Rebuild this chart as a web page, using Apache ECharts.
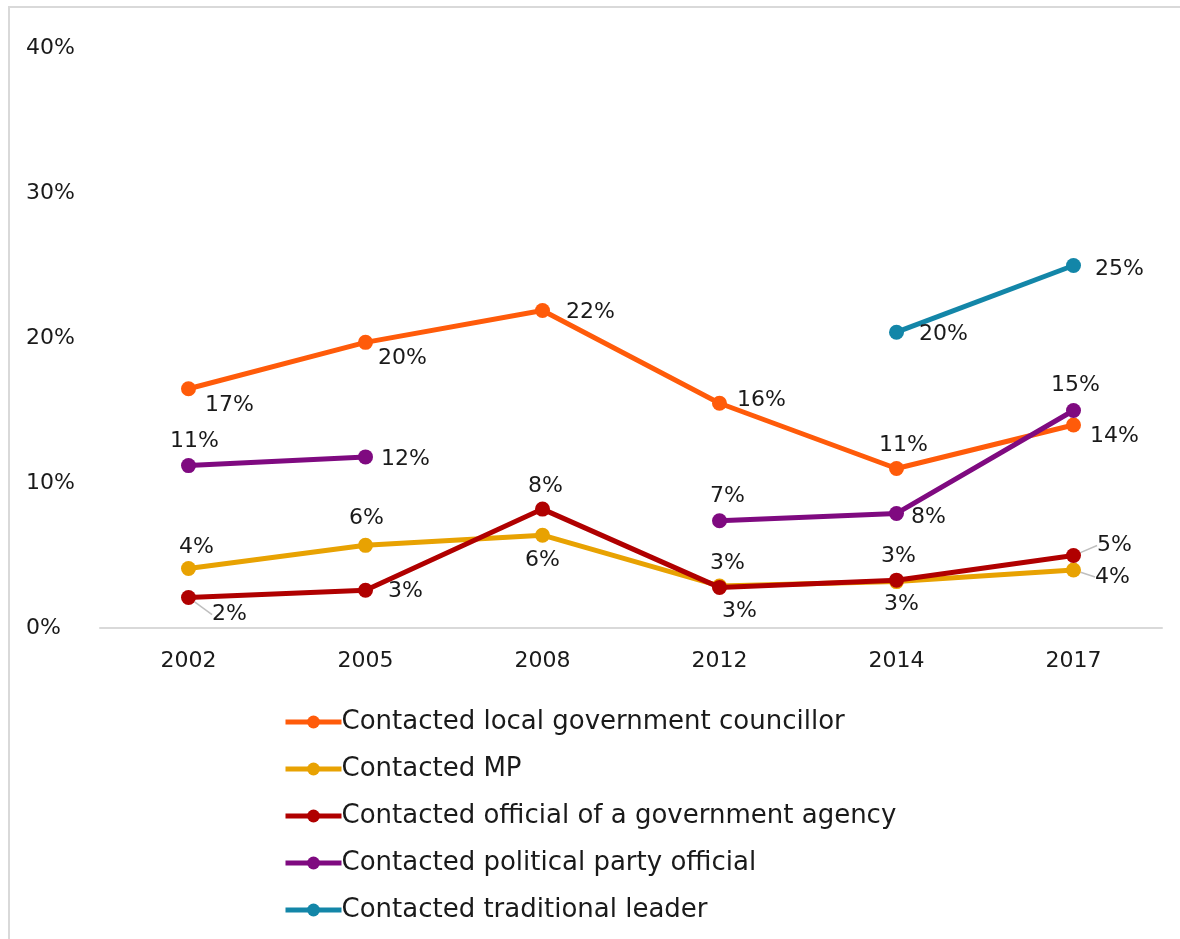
<!DOCTYPE html>
<html><head><meta charset="utf-8">
<script src="https://cdn.jsdelivr.net/npm/echarts@6/dist/echarts.min.js"></script>
<style>
html,body{margin:0;padding:0;background:#fff;}
#frame{position:absolute;left:8px;top:6px;width:1190px;height:950px;border:2px solid #d9d9d9;box-sizing:border-box;}
#c{position:absolute;left:0;top:0;width:1180px;height:939px;}
</style></head>
<body>
<div id="frame"></div>
<div id="c"></div>
<script>
const years = ['2002','2005','2008','2012','2014','2017'];
const seriesNames = ['Contacted local government councillor','Contacted MP','Contacted official of a government agency','Contacted political party official','Contacted traditional leader'];
const localCouncillor = [16.5, 19.7, 21.9, 15.5, 11.0, 14.0];
const mp = [4.1, 5.7, 6.4, 2.9, 3.2, 4.0];
const govAgency = [2.1, 2.6, 8.2, 2.8, 3.3, 5.0];
const partyOfficial = [11.2, 11.8, null, 7.4, 7.9, 15.0];
const traditionalLeader = [null, null, null, null, 20.4, 25.0];
const yTicks = [0, 10, 20, 30, 40];

// label layout (offsets in px from the point), kept apart from the data
const labelOffsets = [
  [[41,17],[37,16],[48,2],[42,-3],[7,-23],[41,11]],
  [[8,-21],[1,-27],[0,25],[8,-23],[5,23],[39,7]],
  [[41,17],[40,1],[3,-23],[20,24],[2,-24],[41,-10]],
  [[6,-24],[40,2],null,[8,-24],[32,4],[2,-25]],
  [null,null,null,null,[47,2],[46,4]]
];
const leaderPoints = [[],[5],[0,5],[],[]];
const colors = ['#FF5B0A','#E8A202','#B00000','#7F0A80','#1386A8'];
const allData = [localCouncillor, mp, govAgency, partyOfficial, traditionalLeader];

const FONT = '"DejaVu Sans", sans-serif';
const chart = echarts.init(document.getElementById('c'));

const series = allData.map((arr, si) => ({
  name: seriesNames[si],
  type: 'line',
  data: arr.map((v, i) => {
    if (v === null) return null;
    const off = labelOffsets[si][i] || [0,0];
    const item = {
      value: v,
      label: {offset: off}
    };
    if (leaderPoints[si].includes(i)) {
      item.labelLine = {show: true, lineStyle: {color: '#bfbfbf', width: 1.5}};
    }
    return item;
  }),
  connectNulls: false,
  symbol: 'circle',
  symbolSize: 15,
  lineStyle: {width: 5, color: colors[si]},
  itemStyle: {color: colors[si]},
  z: 2 + (si === 2 ? 1 : 0),
  label: {
    show: true,
    position: 'inside',
    align: 'center',
    verticalAlign: 'middle',
    formatter: p => Math.round(p.value) + '%',
    fontFamily: FONT,
    fontSize: 22,
    color: '#1a1a1a'
  },
  labelLine: {show: false},
  emphasis: {disabled: true}
}));

chart.setOption({
  animation: false,
  grid: {left: 100, right: 18, top: 48, bottom: 311},
  xAxis: {
    type: 'category',
    data: years,
    boundaryGap: true,
    axisLine: {lineStyle: {color: '#d9d9d9', width: 2}},
    axisTick: {show: false},
    axisLabel: {fontFamily: FONT, fontSize: 22, color: '#1a1a1a', margin: 22}
  },
  yAxis: {
    type: 'value',
    min: yTicks[0],
    max: yTicks[yTicks.length-1],
    interval: 10,
    splitLine: {show: false},
    axisLine: {show: false},
    axisTick: {show: false},
    axisLabel: {fontFamily: FONT, fontSize: 22, color: '#1a1a1a', align: 'left', margin: 74, formatter: v => v + '%'}
  },
  legend: {
    orient: 'vertical',
    left: 283,
    top: 709,
    padding: 0,
    itemWidth: 56,
    itemHeight: 16,
    itemGap: 21,
    lineStyle: {width: 5},
    textStyle: {fontFamily: FONT, fontSize: 26, color: '#1a1a1a', padding: [0,0,0,-5]},
    data: seriesNames
  },
  series: series
});
</script>
</body></html>
